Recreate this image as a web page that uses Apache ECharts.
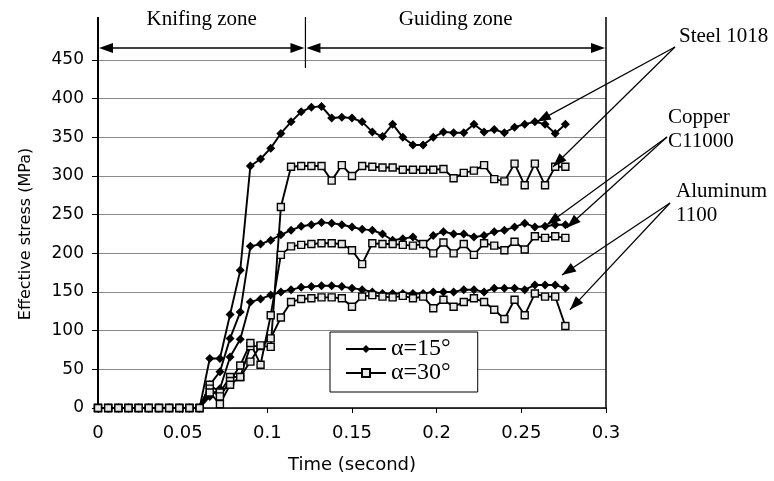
<!DOCTYPE html>
<html><head><meta charset="utf-8">
<script src="https://cdn.jsdelivr.net/npm/echarts@6/dist/echarts.min.js"></script>
<style>html,body{margin:0;padding:0;background:#fff}#c{width:774px;height:481px}</style>
</head><body><div id="c"></div>
<script>
// ---- data (time in s, stress in MPa) ----
const times = [0,0.006,0.012,0.018,0.024,0.03,0.036,0.042,0.048,0.054,0.06,0.066,0.072,0.078,0.084,0.09,0.096,0.102,0.108,0.114,0.12,0.126,0.132,0.138,0.144,0.15,0.156,0.162,0.168,0.174,0.18,0.186,0.192,0.198,0.204,0.21,0.216,0.222,0.228,0.234,0.24,0.246,0.252,0.258,0.264,0.27,0.276];
const steel15 = [0,0,0,0,0,0,0,0,0,0,0,64,64,121,178,313,322,336,355,370,383,389,390,375,376,375,370,357,351,367,350,340,340,350,357,356,356,367,357,360,356,363,367,370,367,355,367];
const steel30 = [0,0,0,0,0,0,0,0,0,0,0,30,20,40,40,80,80,79,260,312,313,313,313,294,314,300,313,312,311,311,308,308,308,308,309,297,304,307,314,296,293,316,288,316,288,312,312];
const copper15 = [0,0,0,0,0,0,0,0,0,0,0,30,47,90,124,209,212,217,224,230,235,237,240,239,237,234,231,230,225,217,219,221,211,223,228,225,225,221,223,228,230,234,239,234,235,237,237];
const copper30 = [0,0,0,0,0,0,0,0,0,0,0,25,15,35,55,84,56,120,198,209,211,212,213,213,212,204,186,213,212,212,211,210,212,200,214,200,212,198,213,210,204,215,205,222,220,222,220];
const alu15 = [0,0,0,0,0,0,0,0,0,0,0,15,25,66,89,137,141,146,150,153,156,157,158,158,157,155,153,150,148,148,148,148,148,150,150,150,153,153,150,155,155,155,153,159,159,159,155];
const alu30 = [0,0,0,0,0,0,0,0,0,0,0,20,5,30,40,60,81,90,117,137,141,142,143,143,142,131,144,146,144,143,145,142,144,129,140,131,137,142,137,127,115,140,120,148,144,144,106];
const legendNames = ['\u03b1=15\u00b0', '\u03b1=30\u00b0'];
const xTicks = [0, 0.05, 0.1, 0.15, 0.2, 0.25, 0.3];
const xTickLabels = ['0', '0.05', '0.1', '0.15', '0.2', '0.25', '0.3'];
const zoneBounds = [0, 0.1225, 0.3];
const zoneLabels = ['Knifing zone', 'Guiding zone'];
const annotations = [
  {lines: ['Steel 1018'], tips: [[0.2592, 370], [0.2687, 312]]},
  {lines: ['Copper', 'C11000'], tips: [[0.2651, 237], [0.2769, 233]]},
  {lines: ['Aluminum', '1100'], tips: [[0.2740, 172], [0.2787, 127]]}
];

// ---- chart ----
const chart = echarts.init(document.getElementById('c'), null, {renderer: 'canvas'});
const pair = v => times.map((t, i) => [t, v[i]]);
function diamondSeries(vals) {
  return {name: legendNames[0], type: 'line', data: pair(vals), symbol: 'diamond', symbolSize: 9,
    showAllSymbol: true, lineStyle: {color: '#000', width: 1.9}, itemStyle: {color: '#000'}, z: 3};
}
function squareSeries(vals) {
  return {name: legendNames[1], type: 'line', data: pair(vals), symbol: 'rect', symbolSize: 7,
    showAllSymbol: true, lineStyle: {color: '#000', width: 1.9},
    itemStyle: {color: '#e8e8e8', borderColor: '#000', borderWidth: 1.4}, z: 4};
}
const sans = 'DejaVu Sans';
const serif = 'Liberation Serif';
const option = {
  animation: false,
  backgroundColor: '#fff',
  grid: {left: 98, right: 168, top: 60, bottom: 73},
  legend: {
    data: legendNames, orient: 'vertical', left: 330, top: 332,
    itemWidth: 40, itemHeight: 10, itemGap: 0,
    padding: [5, 27, 7, 15], borderColor: '#000', borderWidth: 1, backgroundColor: '#fff',
    textStyle: {fontFamily: serif, fontSize: 24, color: '#000', lineHeight: 22}
  },
  xAxis: {
    type: 'value', min: 0, max: 0.3, interval: 0.05,
    axisLine: {lineStyle: {color: '#000', width: 1.5}},
    axisTick: {show: true, length: 5, lineStyle: {color: '#000'}},
    splitLine: {show: false},
    axisLabel: {fontFamily: sans, fontSize: 18, color: '#000', margin: 16,
      formatter: v => { const i = xTicks.findIndex(t => Math.abs(t - v) < 1e-9); return i >= 0 ? xTickLabels[i] : ''; }},
    name: 'Time (second)', nameLocation: 'middle', nameGap: 48,
    nameTextStyle: {fontFamily: sans, fontSize: 18, color: '#000'}
  },
  yAxis: {
    type: 'value', min: 0, max: 450, interval: 50,
    axisLine: {show: true, lineStyle: {color: '#000', width: 2}},
    axisTick: {show: true, length: 6, lineStyle: {color: '#000'}},
    splitLine: {show: true, lineStyle: {color: '#8a8a8a', width: 1}},
    axisLabel: {fontFamily: sans, fontSize: 17, color: '#000', margin: 14},
    name: 'Effective stress (MPa)', nameLocation: 'middle', nameGap: 64,
    nameTextStyle: {fontFamily: sans, fontSize: 16, color: '#000'}
  },
  series: [diamondSeries(steel15), squareSeries(steel30), diamondSeries(copper15),
           squareSeries(copper30), diamondSeries(alu15), squareSeries(alu30)]
};
chart.setOption(option);

// ---- annotation graphics (positions derived from data coordinates) ----
const P = (t, v) => chart.convertToPixel({gridIndex: 0}, [t, v]);
const els = [];
const topY = 17, zoneArrowY = 48, labelY = 19;
function line(x1, y1, x2, y2, w) {
  els.push({type: 'line', shape: {x1, y1, x2, y2}, style: {stroke: '#000', lineWidth: w || 1.2}, z: 50});
}
function head(tx, ty, fx, fy, L, W) {
  const dx = tx - fx, dy = ty - fy, d = Math.hypot(dx, dy), ux = dx / d, uy = dy / d;
  const bx = tx - ux * L, by = ty - uy * L;
  els.push({type: 'polygon', shape: {points: [[tx, ty], [bx - uy * W, by + ux * W], [bx + uy * W, by - ux * W]]},
    style: {fill: '#000'}, z: 51});
}
function text(str, x, y, size, align) {
  els.push({type: 'text', z: 52, style: {text: str, x, y, font: size + 'px "' + serif + '"', fill: '#000',
    textAlign: align || 'left', textVerticalAlign: 'middle', align: align || 'left', verticalAlign: 'middle'}});
}
const bottomY = P(0, 0)[1], plotTop = P(0, 450)[1];
const zx = zoneBounds.map(t => P(t, 450)[0]);
line(zx[0], topY, zx[0], plotTop, 2);
line(zx[1], topY, zx[1], plotTop + 8, 1.2);
line(zx[2], topY, zx[2], bottomY, 1.5);
for (let i = 0; i < 2; i++) {
  const a = zx[i] + 1, b = zx[i + 1] - 1;
  line(a + 6, zoneArrowY, b - 6, zoneArrowY, 1.6);
  head(a, zoneArrowY, b, zoneArrowY, 14, 5);
  head(b, zoneArrowY, a, zoneArrowY, 14, 5);
  text(zoneLabels[i], (zx[i] + zx[i + 1]) / 2, labelY, 21, 'center');
}
const anchors = [{tx: 679, ty: 36, fx: 675, fy: 47}, {tx: 668, ty: 117, fx: 667, fy: 137}, {tx: 676, ty: 191, fx: 670, fy: 203}];
annotations.forEach((a, i) => {
  const an = anchors[i];
  a.lines.forEach((s, j) => text(s, an.tx, an.ty + j * 24, 21, 'left'));
  a.tips.forEach(tp => {
    const p = P(tp[0], tp[1]);
    line(an.fx, an.fy, p[0], p[1], 1.2);
    head(p[0], p[1], an.fx, an.fy, 14, 5);
  });
});
chart.setOption({graphic: {elements: els}});
</script></body></html>
